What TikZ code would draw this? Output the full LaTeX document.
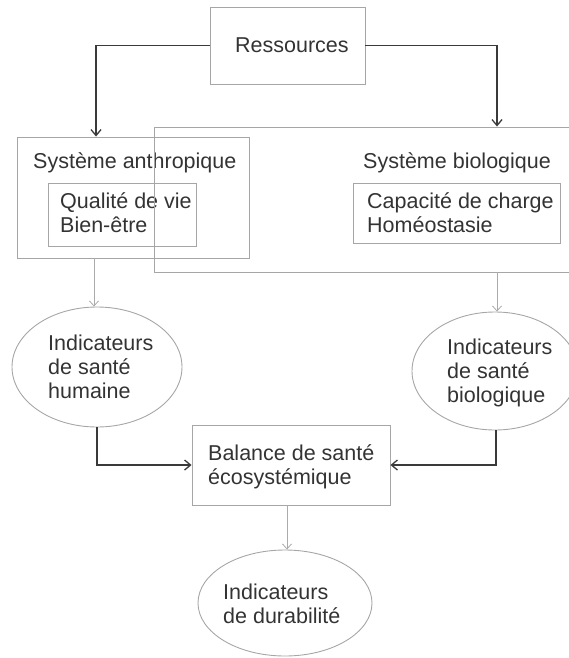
\documentclass[tikz,border=0pt]{standalone}
\usepackage{fontspec}
\setmainfont{Liberation Sans}
\usetikzlibrary{arrows.meta,fit,shapes.geometric}
\definecolor{boxgray}{HTML}{A6A6A6}
\definecolor{txt}{HTML}{333333}
\definecolor{dark}{HTML}{3A3A3A}
\definecolor{lite}{HTML}{ABABAB}
\begin{document}
\begin{tikzpicture}[x=1pt,y=-1pt,
  font=\fontsize{21.5}{24}\selectfont, text=txt,
  box/.style={draw=boxgray, line width=0.9pt, inner sep=0pt},
  ell/.style={draw=boxgray, line width=0.9pt, ellipse, inner sep=0pt},
  lbl/.style={anchor=base west, inner sep=0pt, align=left},
  darkarr/.style={draw=dark, line width=1.3pt, -{Straight Barb[length=6pt,width=10pt]}},
  litearr/.style={draw=lite, line width=0.8pt, -{Straight Barb[length=5pt,width=9pt]}}]
\useasboundingbox (0,0) rectangle (569,658);
\clip (0,0) rectangle (569,658);
% boxes
\node[box, fit={(210,7) (365,84)}] (res) {};
\node[lbl] (restxt) at (235,53) {Ressources};
\node[box, fit={(17,137) (249,258)}] (anth) {};
\node[lbl] (anthtxt) at (33,168) {Système anthropique};
\node[box, fit={(48,183) (196,246)}] (qual) {};
\node[lbl] (qualtxt) at (60,232) {Qualité de vie\\Bien-être};
\node[box, fit={(154,127) (600,272)}] (bio) {};
\node[lbl] (biotxt) at (363,168) {Système biologique};
\node[box, fit={(353,183) (560,243)}] (cap) {};
\node[lbl] (captxt) at (367,232) {Capacité de charge\\Homéostasie};
\node[box, fit={(192,425) (390,505)}] (bal) {};
\node[lbl] (baltxt) at (208,484) {Balance de santé\\écosystémique};
% ellipses
\node[ell, minimum width=170pt, minimum height=120pt] (hum) at (97,367) {};
\node[lbl] (humtxt) at (48,398) {Indicateurs\\de santé\\humaine};
\node[ell, minimum width=166pt, minimum height=118pt] (bil) at (495,371) {};
\node[lbl] (biltxt) at (447,402) {Indicateurs\\de santé\\biologique};
\node[ell, minimum width=174pt, minimum height=106pt] (dur) at (285,603) {};
\node[lbl] (durtxt) at (223,623) {Indicateurs\\de durabilité};
% helper coordinates
\coordinate (cl) at (96,0);
\coordinate (cr) at (497,0);
\coordinate (ch) at (94,0);
\coordinate (cb) at (496,0);
\coordinate (cd) at (287,0);
% connectors
\draw[darkarr] (res.west) -| (anth.north -| cl);
\draw[darkarr] (res.east) -| (bio.north -| cr);
\draw[litearr] (anth.south -| ch) -- (hum.north -| ch);
\draw[litearr] (bio.south -| cr) -- (bil.north -| cr);
\draw[darkarr] (hum.south) |- (bal.west);
\draw[darkarr] (bil.south -| cb) |- (bal.east);
\draw[litearr] (bal.south -| cd) -- (dur.north -| cd);
\end{tikzpicture}
\end{document}
